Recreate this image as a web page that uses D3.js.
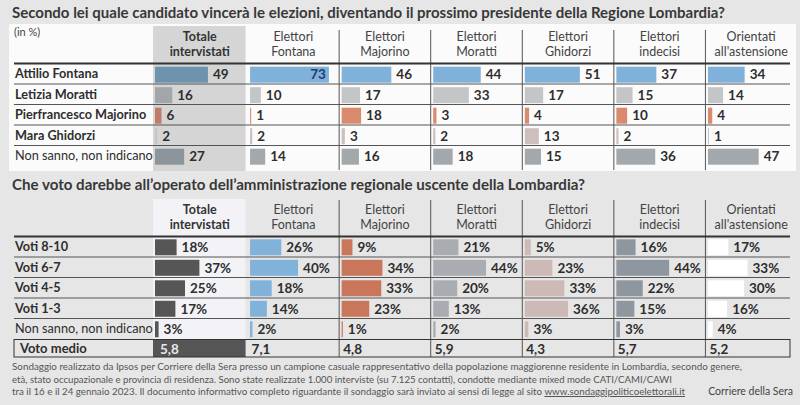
<!DOCTYPE html>
<html><head><meta charset="utf-8">
<script src="https://cdn.jsdelivr.net/npm/d3@7"></script>
<style>
html,body{margin:0;padding:0;background:#e6e6e6;}
svg{display:block;font-family:Lato,"Open Sans",sans-serif;}
</style></head>
<body><svg id="c" width="800" height="405"></svg>
<script>
// ---------- DATA ----------
const title1 = "Secondo lei quale candidato vincerà le elezioni, diventando il prossimo presidente della Regione Lombardia?";
const title2 = "Che voto darebbe all’operato dell’amministrazione regionale uscente della Lombardia?";
const unitLabel = "(in %)";
const columns = ["Totale intervistati","Elettori Fontana","Elettori Majorino","Elettori Moratti","Elettori Ghidorzi","Elettori indecisi","Orientati all'astensione"];
const columnLines = [["Totale","intervistati"],["Elettori","Fontana"],["Elettori","Majorino"],["Elettori","Moratti"],["Elettori","Ghidorzi"],["Elettori","indecisi"],["Orientati","all'astensione"]];

const candidates = ["Attilio Fontana","Letizia Moratti","Pierfrancesco Majorino","Mara Ghidorzi","Non sanno, non indicano"];
const fontanaVals  = [49,73,46,44,51,37,34];
const morattiVals  = [16,10,17,33,17,15,14];
const majorinoVals = [6,1,18,3,4,10,4];
const ghidorziVals = [2,2,3,2,13,2,1];
const nonSannoVals = [27,14,16,18,15,36,47];

const grades = ["Voti 8-10","Voti 6-7","Voti 4-5","Voti 1-3","Non sanno, non indicano"];
const voti810 = [18,26,9,21,5,16,17];
const voti67  = [37,40,34,44,23,44,33];
const voti45  = [25,18,33,20,33,22,30];
const voti13  = [17,14,23,13,36,15,16];
const votiNS  = [3,2,1,2,3,3,4];
const avgLabel = "Voto medio";
const votoMedio = ["5,8","7,1","4,8","5,9","4,3","5,7","5,2"];

const footer = [
 "Sondaggio realizzato da Ipsos per Corriere della Sera presso un campione casuale  rappresentativo della popolazione maggiorenne residente in Lombardia,  secondo genere,",
 "età, stato occupazionale e provincia di residenza. Sono state realizzate 1.000 interviste (su 7.125 contatti), condotte mediante mixed mode CATI/CAMI/CAWI",
 "tra il 16 e il 24 gennaio 2023.  Il documento informativo completo riguardante il sondaggio sarà inviato ai sensi di legge al sito "
];
const footerLink = "www.sondaggipoliticoelettorali.it";
const source = "Corriere della Sera";

// ---------- STYLE ----------
const topSeries = [fontanaVals, morattiVals, majorinoVals, ghidorziVals, nonSannoVals];
const topBold = [true,true,true,true,false];
const topColors = [["#6d93ae","#80b1da"],["#a2a6aa","#c3c5c7"],["#c47b66","#da8b6e"],["#c9c4c4","#ccbfbd"],["#8d959c","#a3a8ad"]];
const botSeries = [voti810, voti67, voti45, voti13, votiNS];
const botBold = [true,true,true,true,false];
const botColors = ["#565656","#80b2da","#c9765a","#a9adb1","#cdbab6","#8e979f","#ffffff"];

const svg = d3.select("#c");
const textCol = "#2e2e2e";
const L = 14, R = 790;

const x = d3.scaleBand().domain(columns).range([156, 797]).paddingInner(0).paddingOuter(0);
const colStart = (i) => x(columns[i]) + (i === 0 ? -1 : 2.5);
const colRight = (i) => x(columns[i]) + x.bandwidth() - 3;

const wTop = d3.scaleLinear().domain([0,100]).range([0,108]);
const wBot = d3.scaleLinear().domain([0,100]).range([0,120]);

const yTop = d3.scaleBand().domain(candidates).range([63.5, 166]);
const yBot = d3.scaleBand().domain(grades).range([236.5, 339]);

// backgrounds
svg.append("rect").attr("x",0).attr("y",0).attr("width",800).attr("height",405).attr("fill","#e6e6e6");
svg.append("rect").attr("x",9).attr("y",24).attr("width",787).attr("height",147).attr("fill","#fbfbfb");
svg.append("rect").attr("x",x(columns[0])-3).attr("y",26).attr("width",x.bandwidth()+1).attr("height",145).attr("fill","#d5d5d5");
svg.append("rect").attr("x",x(columns[0])-3).attr("y",199).attr("width",x.bandwidth()+1).attr("height",140).attr("fill","#f3f3f7");

// titles
svg.append("text").attr("x",12).attr("y",18).attr("font-size",16).attr("font-weight",700).attr("fill","#383838")
  .attr("textLength",713).attr("lengthAdjust","spacingAndGlyphs").text(title1);
svg.append("text").attr("x",12).attr("y",190).attr("font-size",16).attr("font-weight",700).attr("fill","#383838")
  .attr("textLength",573).attr("lengthAdjust","spacingAndGlyphs").text(title2);
svg.append("text").attr("x",14).attr("y",36).attr("font-size",11).attr("fill","#444").text(unitLabel);

// column headers
function headers(y1){
  columns.forEach((c,i)=>{
    const cx = i===0 ? x(c)+x.bandwidth()/2-2 : x(c)+x.bandwidth()/2;
    columnLines[i].forEach((ln,j)=>{
      svg.append("text").attr("x",cx).attr("y",y1+j*15).attr("text-anchor","middle")
        .attr("dy","0.35em").attr("font-size",12.5).attr("font-weight",i===0?700:400)
        .attr("fill",i===0?"#333":"#444").text(ln);
    });
  });
}
headers(36.5);
headers(210);

// separators
function vlines(y0,y1){
  columns.slice(2).forEach(c=>{
    svg.append("line").attr("x1",x(c)).attr("x2",x(c)).attr("y1",y0).attr("y2",y1)
      .attr("stroke","#555").attr("stroke-width",1);
  });
}
vlines(30,170);
vlines(200,357);

function hline(y,w,col){
  svg.append("line").attr("x1",L).attr("x2",R).attr("y1",y).attr("y2",y).attr("stroke",col).attr("stroke-width",w);
}
hline(63.5,2,"#333");
candidates.slice(1).forEach(c=>hline(yTop(c),1,"#555"));
hline(236.5,2,"#333");
grades.slice(1).forEach(c=>hline(yBot(c),1,"#555"));

// value label helper
function drawValue(g, i, barEnd, yc, txt, insideColor){
  const t = g.append("text").attr("y",yc).attr("dy","0.36em").attr("font-size",13.5)
    .attr("font-weight",700).attr("fill",textCol).text(txt);
  const w = t.node().getComputedTextLength();
  if (barEnd + 5 + w > colRight(i) + 3) {
    t.attr("x",barEnd-3).attr("text-anchor","end").attr("fill",insideColor);
  } else {
    t.attr("x",barEnd+5);
  }
}

// top table
const gTop = svg.append("g");
candidates.forEach((cand,r)=>{
  const y0 = yTop(cand), bh = yTop.bandwidth();
  gTop.append("text").attr("x",15).attr("y",y0+bh/2).attr("dy","0.36em").attr("font-size",12.7)
    .attr("font-weight",topBold[r]?700:400).attr("fill",textCol).text(cand);
  topSeries[r].forEach((v,i)=>{
    const xs = colStart(i);
    gTop.append("rect").attr("x",xs).attr("y",y0+3.2).attr("width",wTop(v)).attr("height",16)
      .attr("fill",topColors[r][i===0?0:1]);
    drawValue(gTop,i,xs+wTop(v),y0+bh/2+0.5,String(v),"#1d3f6e");
  });
});

// bottom table
const gBot = svg.append("g");
grades.forEach((gname,r)=>{
  const y0 = yBot(gname), bh = yBot.bandwidth();
  gBot.append("text").attr("x",15).attr("y",y0+bh/2).attr("dy","0.36em").attr("font-size",12.7)
    .attr("font-weight",botBold[r]?700:400).attr("fill",textCol).text(gname);
  botSeries[r].forEach((v,i)=>{
    const xs = colStart(i);
    gBot.append("rect").attr("x",xs).attr("y",y0+2.8).attr("width",wBot(v)).attr("height",16)
      .attr("fill",botColors[i]);
    drawValue(gBot,i,xs+wBot(v),y0+bh/2+0.5,v+"%","#333");
  });
});

// voto medio row
const yA0 = 339.5, yA1 = 357;
svg.append("rect").attr("x",x(columns[0])-3).attr("y",yA0).attr("width",x.bandwidth()+1).attr("height",yA1-yA0).attr("fill","#555");
svg.append("rect").attr("x",L).attr("y",yA0).attr("width",R-L).attr("height",yA1-yA0)
  .attr("fill","none").attr("stroke","#333").attr("stroke-width",1);
svg.append("text").attr("x",20).attr("y",(yA0+yA1)/2).attr("dy","0.36em").attr("font-size",13)
  .attr("font-weight",700).attr("fill",textCol).text(avgLabel);
votoMedio.forEach((v,i)=>{
  svg.append("text").attr("x",x(columns[i])+4).attr("y",(yA0+yA1)/2+0.5).attr("dy","0.36em")
    .attr("font-size",13.5).attr("font-weight",700).attr("fill",i===0?"#e6e6e6":textCol).text(v);
});

// footer
const fLens = [730, 660, 673];
footer.forEach((ln,j)=>{
  const t = svg.append("text").attr("x",12).attr("y",370+j*12.5).attr("font-size",10)
    .attr("fill","#555").attr("textLength",fLens[j]).attr("lengthAdjust","spacingAndGlyphs");
  if (j<2) { t.text(ln); }
  else {
    t.append("tspan").text(ln);
    t.append("tspan").attr("text-decoration","underline").text(footerLink);
  }
});
svg.append("text").attr("x",793).attr("y",395).attr("text-anchor","end").attr("font-size",10.5)
  .attr("fill","#444").text(source);
</script>
</body></html>
